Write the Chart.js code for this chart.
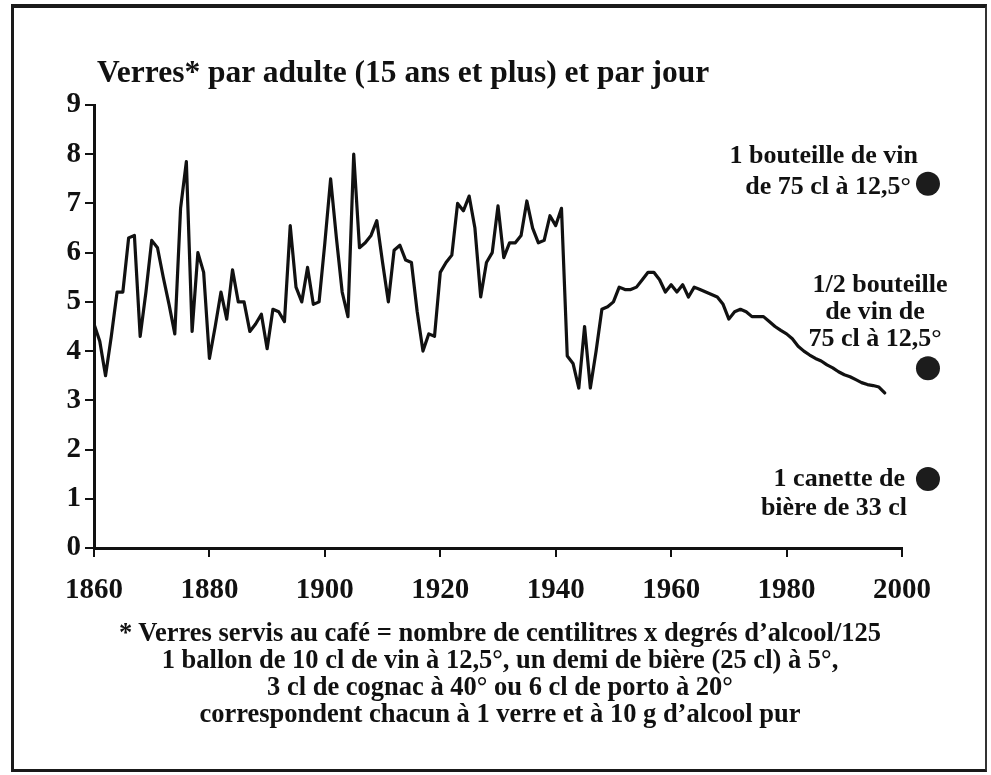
<!DOCTYPE html>
<html>
<head>
<meta charset="utf-8">
<script src="https://cdn.jsdelivr.net/npm/chart.js@4/dist/chart.umd.min.js"></script>
<style>
  html, body { margin: 0; padding: 0; background: #fff; }
  #wrap { position: relative; width: 991px; height: 775px; overflow: hidden; background: #fff; }
  #frame { position: absolute; left: 11px; top: 4px; width: 971px; height: 761px;
           border-left: 3px solid #1a1a1a; border-top: 4px solid #1a1a1a; border-bottom: 3px solid #1a1a1a; border-right: 2px solid #333; }
  canvas { position: absolute; left: 0; top: 0; }
  .t { position: absolute; font-family: "Liberation Serif", "DejaVu Serif", serif; font-weight: bold; color: #111; white-space: nowrap; line-height: 1; transform: translateY(-50%); }
  .r { text-align: right; }
  .c { text-align: center; }
</style>
</head>
<body>
<div id="wrap">
  <div id="frame"></div>
  <canvas id="chart" width="991" height="775"></canvas>
  <div class="t" style="left:97px; top:72px; font-size:31.5px;">Verres* par adulte (15 ans et plus) et par jour</div>

  <div class="t r" style="right:73px; top:155px; font-size:26px;">1 bouteille de vin</div>
  <div class="t r" style="right:80px; top:186px; font-size:26px;">de 75 cl à 12,5°</div>

  <div class="t c" style="left:780px; width:200px; top:284px; font-size:26px;">1/2 bouteille</div>
  <div class="t c" style="left:775px; width:200px; top:311px; font-size:26px;">de vin de</div>
  <div class="t c" style="left:775px; width:200px; top:338px; font-size:26px;">75 cl à 12,5°</div>

  <div class="t r" style="right:86px; top:478px; font-size:26px;">1 canette de</div>
  <div class="t r" style="right:84px; top:507px; font-size:26px;">bière de 33 cl</div>

  <div class="t c" style="left:0; width:1000px; top:632px; font-size:26.5px;">* Verres servis au café = nombre de centilitres x degrés d’alcool/125</div>
  <div class="t c" style="left:0; width:1000px; top:659px; font-size:26.5px;">1 ballon de 10 cl de vin à 12,5°, un demi de bière (25 cl) à 5°,</div>
  <div class="t c" style="left:0; width:1000px; top:686px; font-size:26.5px;">3 cl de cognac à 40° ou 6 cl de porto à 20°</div>
  <div class="t c" style="left:0; width:1000px; top:713px; font-size:26.5px;">correspondent chacun à 1 verre et à 10 g d’alcool pur</div>
</div>
<script>
// Years 1860 .. 1997
const years = [];
for (let y = 1860; y <= 1997; y++) years.push(y);

// Glasses per adult per day
const glasses = [
  4.55, 4.2, 3.5, 4.3, 5.2, 5.2, 6.3, 6.35, 4.3, 5.2,      // 1860-1869
  6.25, 6.1, 5.5, 4.95, 4.35, 6.9, 7.85, 4.4, 6.0, 5.6,    // 1870-1879
  3.85, 4.5, 5.2, 4.65, 5.65, 5.0, 5.0, 4.4, 4.55, 4.75,   // 1880-1889
  4.05, 4.85, 4.8, 4.6, 6.55, 5.3, 5.0, 5.7, 4.95, 5.0,    // 1890-1899
  6.2, 7.5, 6.3, 5.2, 4.7, 8.0, 6.1, 6.2, 6.35, 6.65,      // 1900-1909
  5.8, 5.0, 6.05, 6.15, 5.85, 5.8, 4.8, 4.0, 4.35, 4.3,    // 1910-1919
  5.6, 5.8, 5.95, 7.0, 6.85, 7.15, 6.5, 5.1, 5.8, 6.0,     // 1920-1929
  6.95, 5.9, 6.2, 6.2, 6.35, 7.05, 6.5, 6.2, 6.25, 6.75,   // 1930-1939
  6.55, 6.9, 3.9, 3.75, 3.25, 4.5, 3.25, 4.0, 4.85, 4.9,   // 1940-1949
  5.0, 5.3, 5.25, 5.25, 5.3, 5.45, 5.6, 5.6, 5.45, 5.2,    // 1950-1959
  5.35, 5.2, 5.35, 5.1, 5.3, 5.25, 5.2, 5.15, 5.1, 4.95,   // 1960-1969
  4.65, 4.8, 4.85, 4.8, 4.7, 4.7, 4.7, 4.6, 4.5, 4.42,     // 1970-1979
  4.35, 4.25, 4.1, 4.0, 3.92, 3.85, 3.8, 3.72, 3.66, 3.58, // 1980-1989
  3.52, 3.48, 3.42, 3.36, 3.32, 3.3, 3.27, 3.15            // 1990-1997
];

// Reference markers (bottle, half bottle, beer can) on the right side
const markerX = [2004.5, 2004.5, 2004.5];
const markerValues = [7.4, 3.65, 1.4];

const xTicks = [1860, 1880, 1900, 1920, 1940, 1960, 1980, 2000];
const yTicks = [0, 1, 2, 3, 4, 5, 6, 7, 8, 9];
const X_MIN = 1860, X_MAX = 2000, Y_MIN = 0, Y_MAX = 9;

const lineData = years.map((y, i) => ({ x: y, y: glasses[i] }));

const tickFont = { family: "'Liberation Serif', 'DejaVu Serif', serif", size: 29, weight: 'bold' };

// Draws the reference circles through the chart's own scales (they sit right of the axis end)
const markerPlugin = {
  id: 'markers',
  afterDatasetsDraw(chart) {
    const ctx = chart.ctx;
    const xs = chart.scales.x, ys = chart.scales.y;
    ctx.save();
    ctx.fillStyle = '#1c1c1c';
    for (let i = 0; i < markerX.length; i++) {
      const px = xs.getPixelForValue(markerX[i]);
      const py = ys.getPixelForValue(markerValues[i]);
      ctx.beginPath();
      ctx.arc(px, py, 12, 0, Math.PI * 2);
      ctx.fill();
    }
    ctx.restore();
  }
};

new Chart(document.getElementById('chart'), {
  type: 'line',
  data: {
    datasets: [
      {
        data: lineData,
        borderColor: '#111',
        borderWidth: 3.2,
        pointRadius: 0,
        tension: 0,
        borderJoinStyle: 'round',
        borderCapStyle: 'round',
        fill: false
      }
    ]
  },
  plugins: [markerPlugin],
  options: {
    responsive: false,
    animation: false,
    events: [],
    layout: { padding: { left: 0, top: 105, right: 89, bottom: 177 } },
    plugins: { legend: { display: false }, tooltip: { enabled: false }, title: { display: false } },
    scales: {
      x: {
        type: 'linear',
        min: X_MIN,
        max: X_MAX,
        afterBuildTicks: (s) => { s.ticks = xTicks.map(v => ({ value: v })); },
        afterFit: (s) => { s.height = 50; },
        ticks: { color: '#111', font: tickFont, padding: 16, maxRotation: 0, autoSkip: false,
                 callback: (v) => String(v) },
        grid: { display: true, drawOnChartArea: false, drawTicks: true, tickLength: 9, lineWidth: 2, color: '#111' },
        border: { display: true, width: 3, color: '#111' }
      },
      y: {
        type: 'linear',
        min: Y_MIN,
        max: Y_MAX,
        afterBuildTicks: (s) => { s.ticks = yTicks.map(v => ({ value: v })); },
        afterFit: (s) => { s.width = 94; },
        ticks: { color: '#111', font: tickFont, padding: 4, autoSkip: false,
                 callback: (v) => String(v) },
        grid: { display: true, drawOnChartArea: false, drawTicks: true, tickLength: 9, lineWidth: 2, color: '#111' },
        border: { display: true, width: 3, color: '#111' }
      }
    }
  }
});
</script>
</body>
</html>
